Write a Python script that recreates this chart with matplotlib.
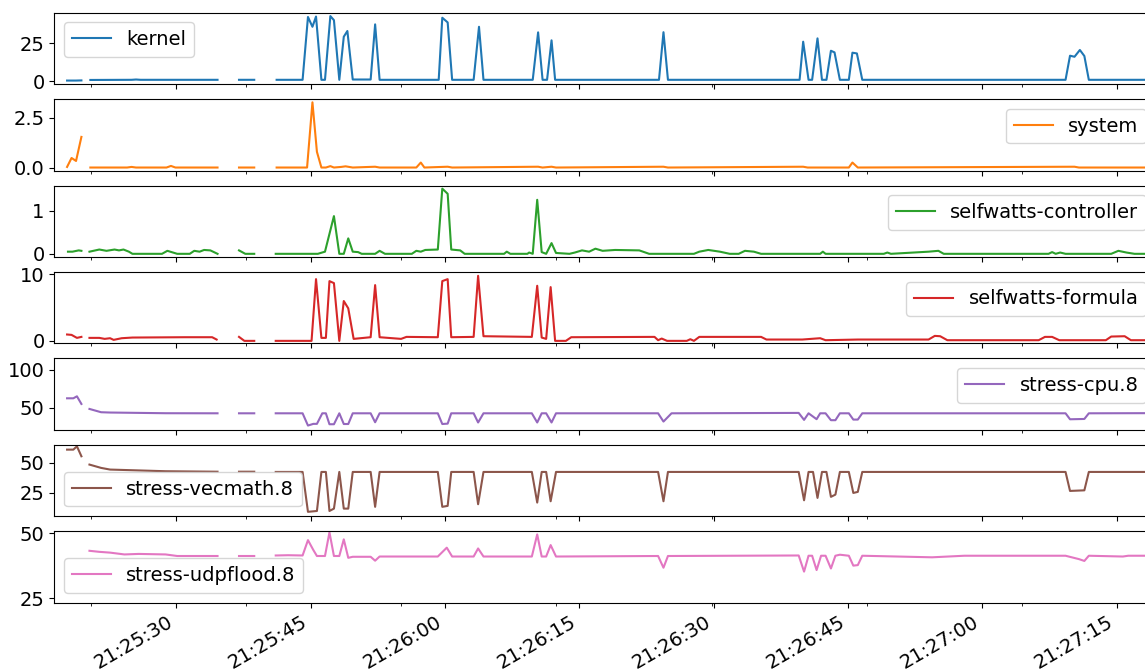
from datetime import datetime, timedelta

import matplotlib
matplotlib.use("Agg")
import matplotlib.dates as mdates
import matplotlib.pyplot as plt
import numpy as np
from matplotlib.ticker import FixedLocator

nan = np.nan
START = datetime(2021, 1, 1, 21, 25, 0)

# (seconds after 21:25:00, value); nan rows are holes in the log
kernel = [
    (17.8, 0.3), (18.3, 0.3), (18.8, 0.3), (19.4, 0.4), (19.9, nan),
    (20.4, 0.7), (25.0, 0.8), (25.5, 1.0), (26.0, 0.8), (34.6, 0.8), (35.8, nan),
    (37.0, 0.8), (38.7, 0.8), (40.0, nan),
    (41.2, 0.8), (44.1, 0.8), (44.7, 42.5), (45.2, 36.0), (45.6, 42.8), (46.2, 0.8),
    (46.6, 0.8), (47.2, 43.1), (47.6, 40.4), (48.2, 0.8), (48.7, 29.4), (49.1, 33.2),
    (49.7, 1.0), (51.7, 1.0), (52.2, 37.6), (52.7, 0.8), (59.3, 0.8), (59.7, 42.0),
    (60.3, 38.9), (60.8, 0.8), (63.2, 0.8), (63.8, 36.0), (64.3, 0.8), (69.8, 0.8),
    (70.4, 32.3), (70.9, 0.8), (71.4, 0.8), (71.9, 27.0), (72.3, 0.8), (83.9, 0.8),
    (84.4, 32.4), (84.9, 0.8), (99.6, 0.8), (100.0, 26.1), (100.6, 0.8), (101.0, 0.8),
    (101.6, 28.3), (102.1, 0.8), (102.6, 0.8), (103.1, 20.1), (103.5, 19.0),
    (104.1, 0.8), (105.1, 0.8), (105.5, 18.8), (106.0, 18.3), (106.6, 0.8),
    (129.3, 0.8), (129.8, 16.8), (130.3, 16.1), (130.9, 20.6), (131.4, 16.6),
    (131.9, 0.8), (139.4, 0.8),
]

system = [
    (17.8, 0.03), (18.3, 0.48), (18.8, 0.33), (19.4, 1.54), (19.9, nan),
    (20.4, 0.0), (24.5, 0.0), (25.0, 0.03), (25.5, 0.0), (28.9, 0.0), (29.4, 0.08),
    (29.9, 0.0), (34.6, 0.0), (35.8, nan),
    (37.0, 0.0), (38.7, 0.0), (40.0, nan),
    (41.2, 0.0), (44.6, 0.0), (45.2, 3.28), (45.7, 0.79), (46.2, 0.0), (46.7, 0.0),
    (47.2, 0.07), (47.6, 0.0), (48.4, 0.03), (48.9, 0.06), (49.7, 0.0), (52.2, 0.04),
    (52.7, 0.0), (56.8, 0.0), (57.3, 0.25), (57.7, 0.0), (60.3, 0.04), (60.8, 0.0),
    (70.4, 0.04), (70.9, 0.0), (71.9, 0.04), (72.4, 0.0), (84.4, 0.04), (84.9, 0.0),
    (100.0, 0.04), (100.5, 0.0), (105.1, 0.0), (105.5, 0.25), (106.1, 0.0),
    (130.3, 0.04), (130.8, 0.0), (139.4, 0.0),
]

controller = [
    (17.9, 0.05), (18.4, 0.05), (19.1, 0.08), (19.4, 0.07), (19.9, nan),
    (20.3, 0.05), (21.4, 0.10), (22.2, 0.07), (23.1, 0.10), (23.6, 0.08), (24.1, 0.10),
    (24.7, 0.05), (25.1, 0.0), (28.4, 0.0), (29.0, 0.07), (30.1, 0.0), (31.5, 0.0),
    (32.0, 0.07), (32.6, 0.05), (33.1, 0.09), (33.8, 0.08), (34.6, 0.0), (35.8, nan),
    (37.0, 0.08), (37.7, 0.0), (38.7, 0.0), (40.0, nan),
    (41.1, 0.0), (45.8, 0.0), (46.6, 0.05), (47.6, 0.88), (48.2, 0.0), (48.7, 0.0),
    (49.2, 0.36), (49.7, 0.05), (50.3, 0.04), (50.7, 0.0), (52.2, 0.0), (52.7, 0.07),
    (53.3, 0.0), (56.3, 0.0), (56.8, 0.07), (57.3, 0.05), (57.8, 0.09), (59.2, 0.10),
    (59.7, 1.52), (60.3, 1.40), (60.7, 0.10), (61.7, 0.08), (62.2, 0.0), (66.6, 0.0),
    (66.9, 0.05), (67.3, 0.0), (69.2, 0.0), (69.4, 0.03), (69.8, 0.0), (70.3, 1.26),
    (70.8, 0.04), (71.3, 0.0), (71.9, 0.25), (72.4, 0.02), (73.9, 0.0), (74.5, 0.03),
    (75.3, 0.08), (76.1, 0.05), (76.8, 0.12), (77.6, 0.07), (79.0, 0.09), (81.7, 0.08),
    (82.8, 0.0), (87.8, 0.0), (88.4, 0.05), (89.4, 0.09), (90.7, 0.05), (91.8, 0.0),
    (92.8, 0.0), (93.5, 0.07), (94.5, 0.05), (95.3, 0.0), (101.9, 0.0), (102.2, 0.05),
    (102.5, 0.0), (109.0, 0.0), (109.4, 0.03), (109.8, 0.0), (114.0, 0.05),
    (115.1, 0.07), (115.7, 0.0), (127.4, 0.0), (127.8, 0.04), (128.2, 0.0),
    (128.7, 0.03), (129.3, 0.0), (134.4, 0.0), (135.2, 0.07), (136.1, 0.03),
    (137.0, 0.0), (139.4, 0.0),
]

formula = [
    (17.8, 0.96), (18.3, 0.90), (18.9, 0.45), (19.4, 0.60), (19.9, nan),
    (20.3, 0.45), (21.4, 0.45), (22.0, 0.30), (22.6, 0.40), (23.0, 0.15), (23.9, 0.40),
    (25.1, 0.50), (30.9, 0.55), (34.0, 0.55), (34.5, 0.20), (35.8, nan),
    (37.0, 0.60), (37.6, 0.0), (38.7, 0.0), (40.0, nan),
    (41.1, 0.0), (45.1, 0.0), (45.6, 9.3), (46.2, 0.45), (46.7, 0.45), (47.1, 9.0),
    (47.6, 8.7), (48.2, 0.0), (48.7, 6.0), (49.2, 4.9), (49.8, 0.30), (51.7, 0.55),
    (52.2, 8.4), (52.7, 0.55), (55.1, 0.30), (55.7, 0.60), (59.2, 0.55), (59.7, 9.0),
    (60.3, 9.3), (60.7, 0.55), (63.2, 0.60), (63.7, 9.8), (64.3, 0.70), (69.7, 0.60),
    (70.3, 8.3), (70.8, 0.50), (71.3, 0.30), (71.8, 8.1), (72.3, 0.0), (73.5, 0.0),
    (74.1, 0.55), (83.4, 0.60), (83.8, 0.10), (84.2, 0.35), (84.8, 0.0), (87.0, 0.0),
    (87.4, 0.25), (87.8, 0.0), (88.4, 0.60), (95.3, 0.60), (95.9, 0.20), (99.5, 0.20),
    (99.9, 0.20), (101.9, 0.40), (102.5, 0.10), (106.1, 0.20), (114.0, 0.20),
    (114.7, 0.75), (115.3, 0.70), (116.1, 0.10), (126.3, 0.10), (127.0, 0.60),
    (127.8, 0.60), (128.6, 0.10), (133.8, 0.10), (134.4, 0.65), (135.9, 0.70),
    (136.6, 0.10), (139.4, 0.10),
]

stress_cpu = [
    (17.8, 62.6), (18.5, 62.6), (18.9, 65.2), (19.4, 55.2), (19.9, nan),
    (20.3, 48.7), (21.6, 44.4), (22.6, 44.0), (28.8, 43.1), (34.6, 43.0), (35.8, nan),
    (37.0, 43.0), (38.7, 43.0), (40.0, nan),
    (41.1, 43.0), (44.1, 43.0), (44.7, 27.0), (45.3, 29.2), (45.7, 29.2), (46.3, 43.0),
    (46.7, 43.0), (47.1, 28.7), (47.6, 28.7), (48.2, 43.0), (48.7, 29.0), (49.2, 29.0),
    (49.7, 43.0), (51.7, 43.0), (52.2, 31.3), (52.7, 43.0), (59.2, 43.0), (59.7, 29.0),
    (60.3, 29.5), (60.7, 43.0), (63.2, 43.0), (63.7, 31.0), (64.3, 43.0), (69.7, 43.0),
    (70.3, 31.0), (70.8, 43.0), (71.3, 43.0), (71.9, 31.0), (72.4, 43.0), (83.8, 43.0),
    (84.4, 32.2), (85.3, 43.0), (99.5, 43.5), (100.1, 34.4), (100.6, 43.0),
    (101.5, 35.3), (101.9, 43.0), (102.5, 43.0), (103.1, 34.0), (103.6, 34.0),
    (104.1, 43.0), (105.1, 43.0), (105.6, 34.8), (106.1, 34.8), (106.6, 43.0),
    (129.3, 43.0), (129.8, 35.2), (131.4, 35.6), (131.9, 43.0), (139.4, 43.2),
]

stress_vecmath = [
    (17.8, 61.2), (18.5, 61.2), (18.9, 64.0), (19.4, 55.6), (19.9, nan),
    (20.3, 48.6), (21.6, 45.8), (22.6, 44.4), (28.8, 43.0), (34.6, 42.6), (35.8, nan),
    (37.0, 42.6), (38.7, 42.6), (40.0, nan),
    (41.1, 42.4), (44.1, 42.4), (44.7, 8.8), (45.7, 9.5), (46.2, 42.4), (46.7, 42.4),
    (47.1, 9.5), (47.6, 11.5), (48.2, 42.4), (48.7, 11.5), (49.2, 11.5), (49.7, 42.4),
    (51.7, 42.4), (52.2, 13.0), (52.7, 42.4), (59.2, 42.4), (59.7, 13.0), (60.3, 13.8),
    (60.7, 42.4), (63.2, 42.4), (63.7, 15.2), (64.3, 42.4), (69.7, 42.4), (70.3, 16.6),
    (70.8, 42.4), (71.3, 42.4), (71.8, 17.7), (72.4, 42.4), (83.8, 42.4), (84.4, 17.7),
    (84.9, 42.4), (99.5, 42.4), (100.1, 18.5), (100.6, 42.4), (101.1, 42.4),
    (101.6, 20.5), (102.1, 42.4), (102.6, 42.4), (103.1, 21.4), (103.6, 23.3),
    (104.1, 42.4), (105.1, 42.4), (105.6, 24.7), (106.1, 25.6), (106.6, 42.4),
    (129.3, 42.4), (129.8, 26.4), (131.4, 26.9), (131.9, 42.4), (139.4, 42.4),
]

stress_udpflood = [
    (20.3, 43.3), (21.4, 42.9), (22.6, 42.6), (24.2, 41.9), (25.8, 42.1), (28.8, 41.9),
    (30.1, 41.3), (34.6, 41.3), (35.8, nan),
    (37.0, 41.3), (38.7, 41.3), (40.0, nan),
    (41.1, 41.5), (42.5, 41.6), (44.1, 41.5), (44.7, 47.4), (45.3, 43.6), (45.7, 41.3),
    (46.6, 41.3), (47.1, 50.4), (47.6, 41.3), (48.2, 41.3), (48.7, 47.7), (49.2, 40.6),
    (49.7, 41.0), (51.7, 41.0), (52.2, 39.5), (52.7, 41.1), (59.2, 41.1), (60.2, 44.5),
    (60.8, 41.1), (63.2, 41.1), (63.7, 44.2), (64.3, 41.1), (69.7, 41.1), (70.3, 49.6),
    (70.8, 41.1), (71.3, 41.1), (71.8, 45.5), (72.4, 41.1), (83.8, 41.3), (84.4, 36.8),
    (84.9, 41.3), (99.5, 41.5), (100.1, 35.3), (100.6, 41.4), (101.0, 41.4),
    (101.5, 35.9), (102.0, 41.4), (102.5, 41.4), (103.1, 36.5), (103.6, 41.4),
    (104.1, 41.8), (105.1, 41.4), (105.6, 37.6), (106.1, 37.8), (106.6, 41.4),
    (114.4, 40.8), (118.0, 41.4), (129.3, 41.4), (130.8, 40.1), (131.4, 39.4),
    (131.9, 41.4), (135.7, 41.1), (136.3, 41.4), (139.4, 41.4),
]

SERIES = [
    ("kernel", kernel),
    ("system", system),
    ("selfwatts-controller", controller),
    ("selfwatts-formula", formula),
    ("stress-cpu.8", stress_cpu),
    ("stress-vecmath.8", stress_vecmath),
    ("stress-udpflood.8", stress_udpflood),
]
Y_LIMITS = [(-2.2, 45.3), (-0.16, 3.44), (-0.076, 1.593), (-0.39, 10.39),
            (21.4, 114.9), (5.1, 65.4), (23.4, 50.9)]
Y_TICKS = [[0, 25], [0.0, 2.5], [0, 1], [0, 10], [50, 100], [25, 50], [25, 50]]
LEGEND_LOC = ["upper left", "upper right", "upper right", "upper right",
              "upper right", "lower left", "lower left"]
MINOR_SECONDS = [20.5, 37.8, 55.1, 72.4, 89.8, 107.1, 124.4]


def to_time(seconds):
    return [START + timedelta(seconds=s) for s in seconds]


plt.rcParams["font.family"] = "DejaVu Sans"
plt.rcParams["font.size"] = 14

fig, axes = plt.subplots(len(SERIES), 1, sharex=True, figsize=(11.45, 6.72), dpi=100)
fig.subplots_adjust(left=0.0474, right=1.0096, top=0.981, bottom=0.1033, hspace=0.207)

for i, (ax, (name, rows)) in enumerate(zip(axes, SERIES)):
    t, v = zip(*rows)
    ax.plot(to_time(t), v, color=f"C{i}", label=name)
    ax.set_ylim(*Y_LIMITS[i])
    ax.set_yticks(Y_TICKS[i])
    ax.legend(loc=LEGEND_LOC[i])
    ax.xaxis.set_minor_locator(FixedLocator(mdates.date2num(to_time(MINOR_SECONDS))))

last = axes[-1]
last.set_xlim(to_time([16.37, 139.4]))
last.xaxis.set_major_locator(mdates.SecondLocator(bysecond=[0, 15, 30, 45]))
last.xaxis.set_major_formatter(mdates.DateFormatter("%H:%M:%S"))
for lab in last.get_xticklabels():
    lab.set_rotation(30)
    lab.set_ha("right")

fig.savefig("out.png", dpi=100)
